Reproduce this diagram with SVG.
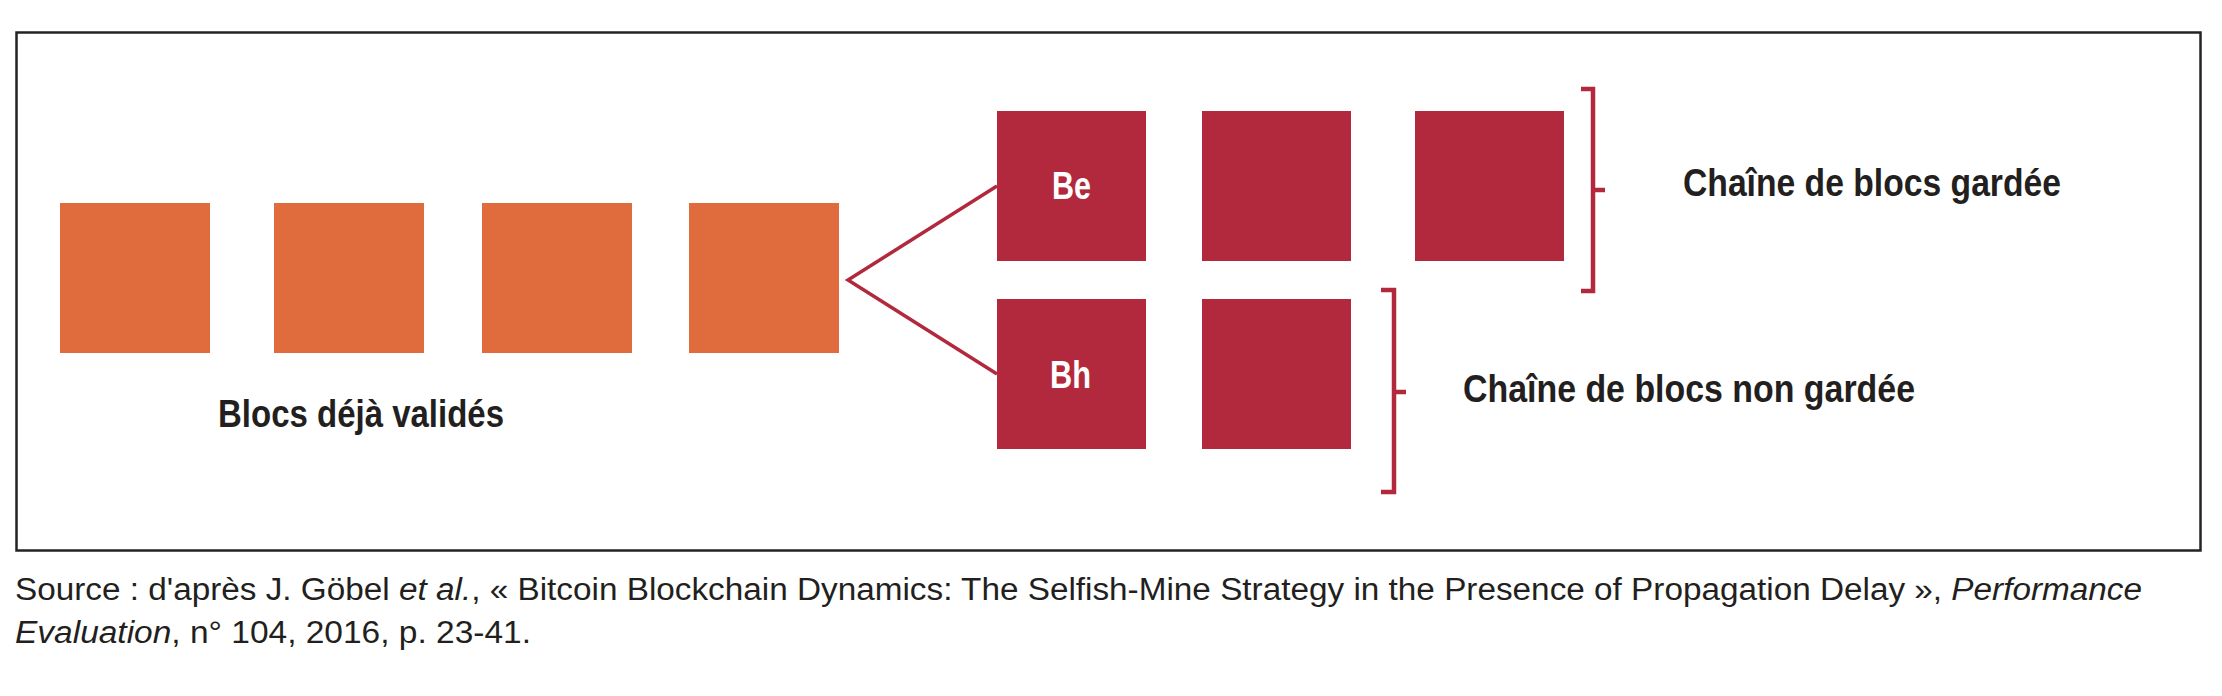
<svg xmlns="http://www.w3.org/2000/svg" width="2222" height="696" viewBox="0 0 2222 696">
  <style>
    .orange { fill: #E06C3E; }
    .red { fill: #B2293E; }
    .lbl { font-family: "Liberation Sans", Arial, sans-serif; font-weight: bold; font-size: 39px; fill: #231F20; }
    .blk { font-family: "Liberation Sans", Arial, sans-serif; font-weight: bold; font-size: 39px; fill: #FFFFFF; }
    .src { font-family: "Liberation Sans", Arial, sans-serif; font-size: 31px; fill: #231F20; }
    .it { font-style: italic; }
    .conn { fill: none; stroke: #B2293E; stroke-width: 3.5; }
    .brk { fill: none; stroke: #B2293E; stroke-width: 4.5; }
  </style>
  <rect x="0" y="0" width="2222" height="696" fill="#FFFFFF"/>
  <rect id="frame" x="16.5" y="32.5" width="2184" height="518" fill="none" stroke="#232323" stroke-width="2.5"/>

  <g id="validated-1"><rect class="orange" x="60" y="203" width="150" height="150"/></g>
  <g id="validated-2"><rect class="orange" x="274" y="203" width="150" height="150"/></g>
  <g id="validated-3"><rect class="orange" x="482" y="203" width="150" height="150"/></g>
  <g id="validated-4"><rect class="orange" x="689" y="203" width="150" height="150"/></g>
  <g id="validated-label"><text class="lbl" x="218" y="427" textLength="286" lengthAdjust="spacingAndGlyphs">Blocs déjà validés</text></g>

  <g id="block-Be">
    <rect class="red" x="997" y="111" width="149" height="150"/>
    <text class="blk" x="1052" y="199" textLength="39" lengthAdjust="spacingAndGlyphs">Be</text>
  </g>
  <g id="kept-2"><rect class="red" x="1202" y="111" width="149" height="150"/></g>
  <g id="kept-3"><rect class="red" x="1415" y="111" width="149" height="150"/></g>

  <g id="block-Bh">
    <rect class="red" x="997" y="299" width="149" height="150"/>
    <text class="blk" x="1050" y="388" textLength="41" lengthAdjust="spacingAndGlyphs">Bh</text>
  </g>
  <g id="unkept-2"><rect class="red" x="1202" y="299" width="149" height="150"/></g>

  <g id="kept-bracket">
    <path class="brk" d="M1581,89 H1593 V291 H1581 M1593,190 H1605"/>
    <text class="lbl" x="1683" y="196" textLength="378" lengthAdjust="spacingAndGlyphs">Chaîne de blocs gardée</text>
  </g>
  <g id="unkept-bracket">
    <path class="brk" d="M1381,290 H1394 V492 H1381 M1394,392 H1406"/>
    <text class="lbl" x="1463" y="402" textLength="452" lengthAdjust="spacingAndGlyphs">Chaîne de blocs non gardée</text>
  </g>

  <g id="connectors">
    <path class="conn" d="M997,186 L848,280 L997,374"/>
  </g>

  <g id="source">
    <text class="src" x="15" y="600" textLength="2127" lengthAdjust="spacingAndGlyphs">Source : d'après J. Göbel <tspan class="it">et al.</tspan>, « Bitcoin Blockchain Dynamics: The Selfish-Mine Strategy in the Presence of Propagation Delay », <tspan class="it">Performance</tspan></text>
    <text class="src" x="15" y="643" textLength="516" lengthAdjust="spacingAndGlyphs"><tspan class="it">Evaluation</tspan>, n° 104, 2016, p. 23-41.</text>
  </g>
</svg>
